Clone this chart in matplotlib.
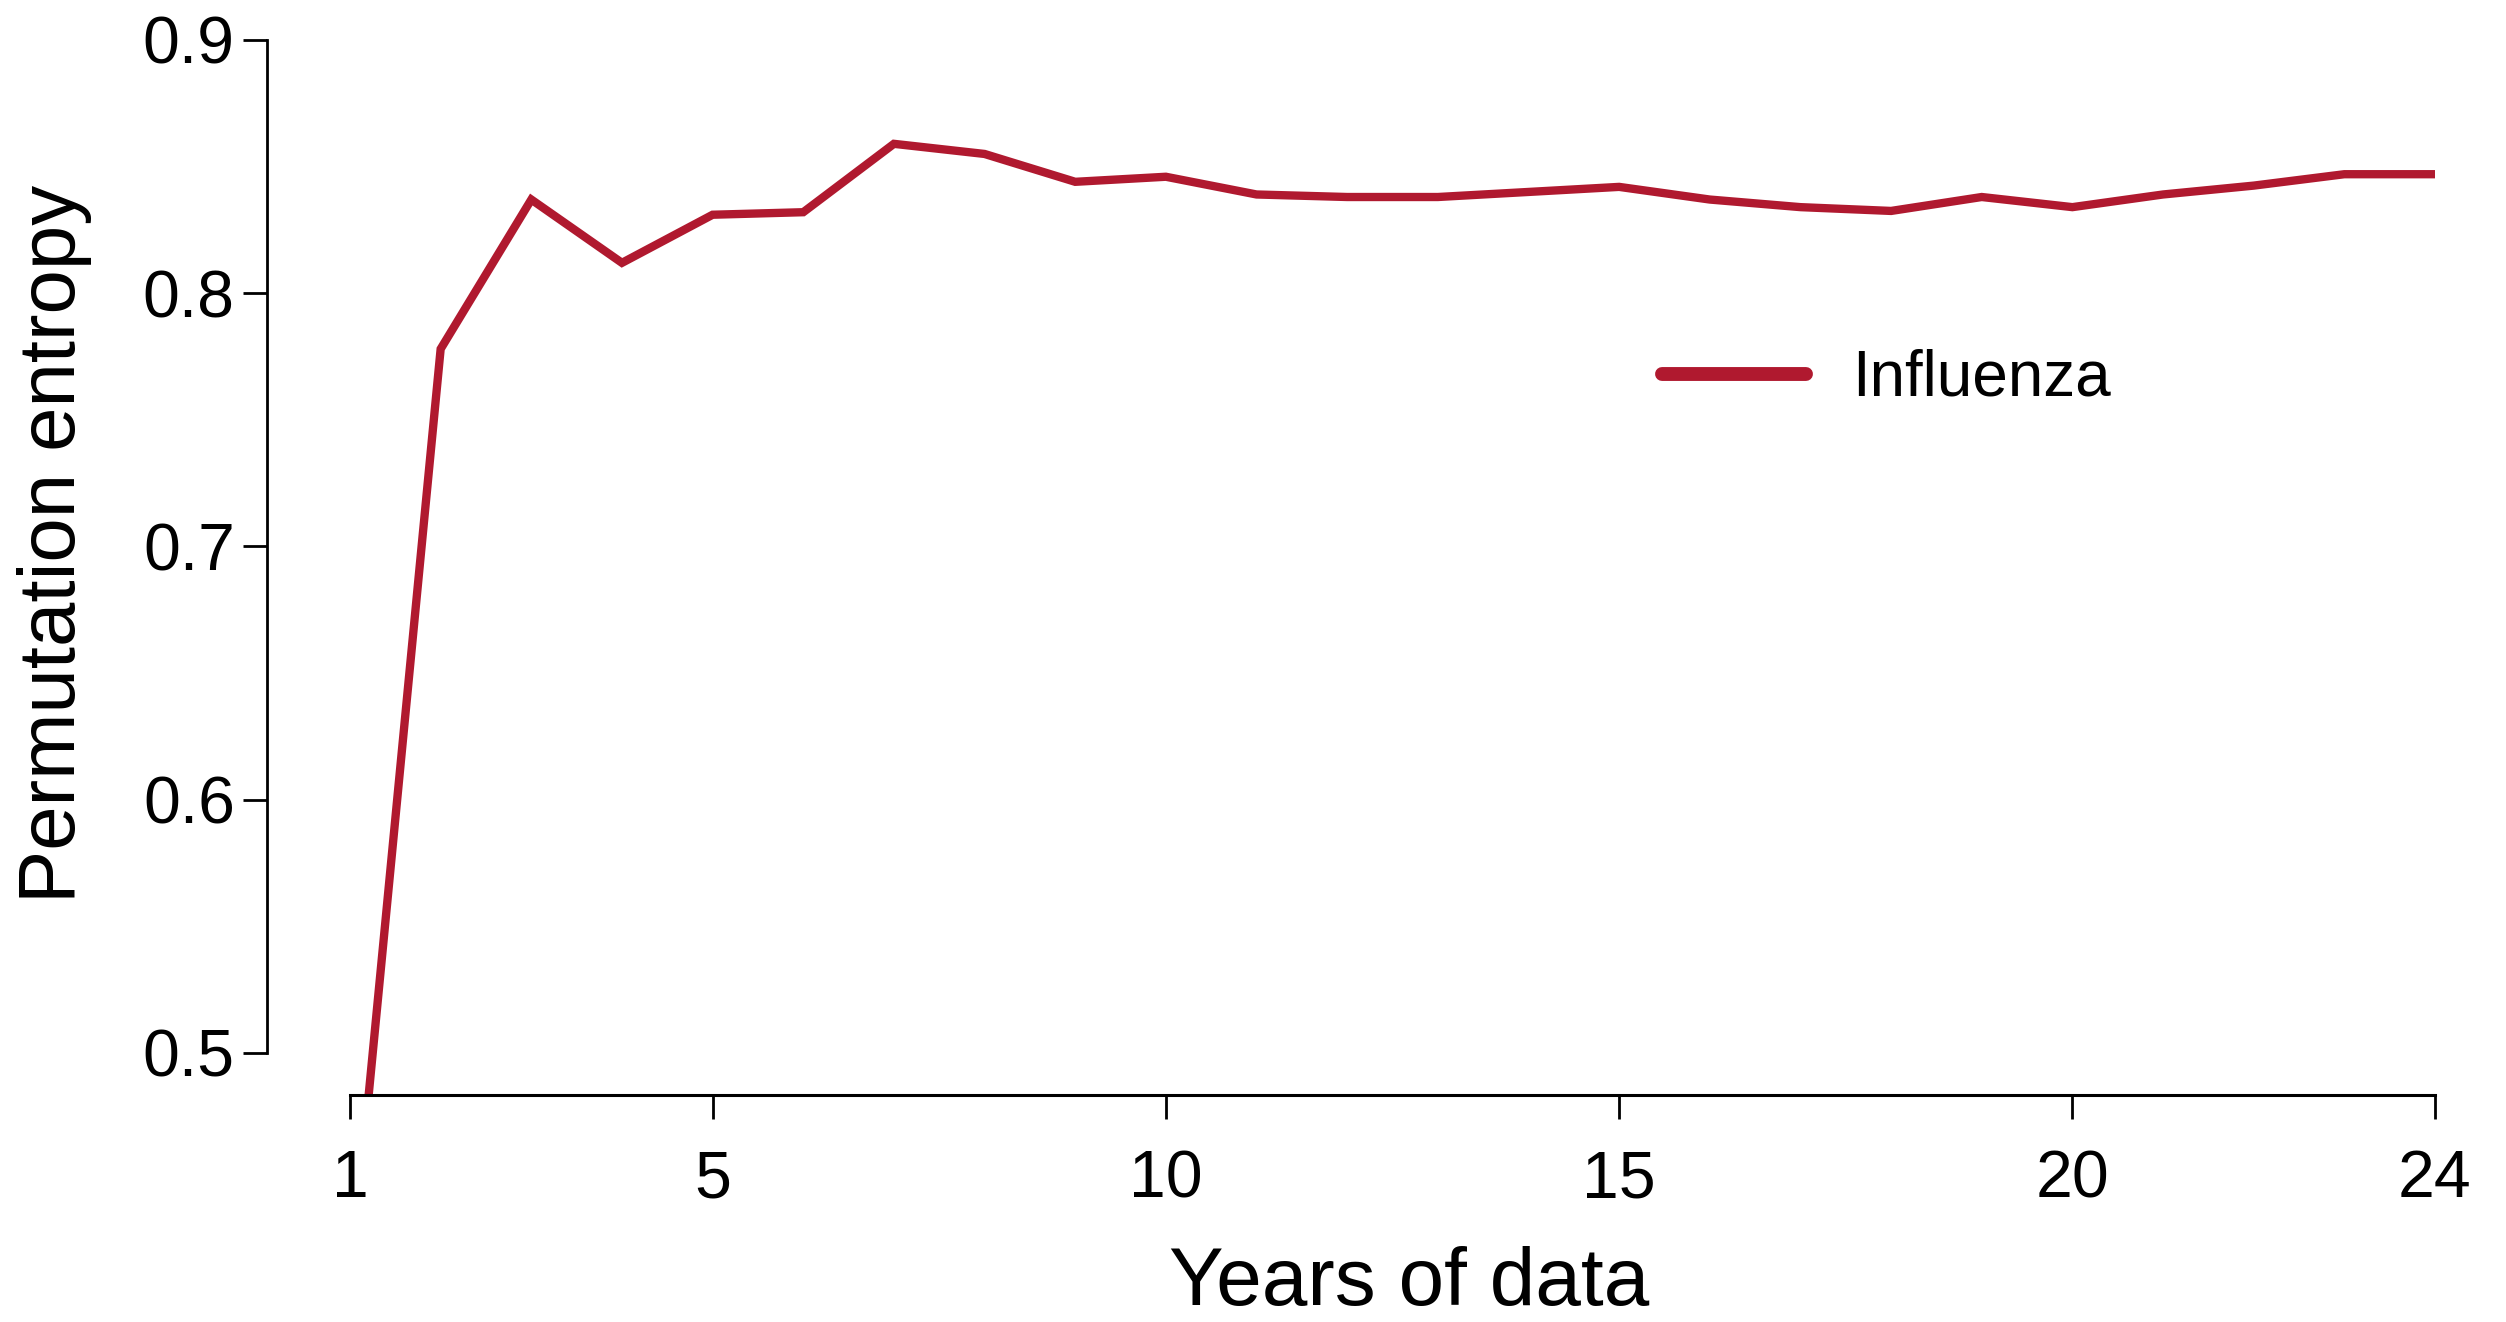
import numpy as np
import matplotlib
matplotlib.use("Agg")
from matplotlib import pyplot as plt

plt.rcParams['font.family'] = ['Liberation Sans', 'DejaVu Sans']

# data
years = np.arange(1, 25)
entropy = [0.407, 0.778, 0.837, 0.812, 0.831, 0.832, 0.859, 0.855, 0.844, 0.846,
           0.839, 0.838, 0.838, 0.840, 0.842, 0.837, 0.834, 0.8325, 0.838, 0.834,
           0.839, 0.8425, 0.847, 0.847]
xticks = [1, 5, 10, 15, 20, 24]
yticks = [0.5, 0.6, 0.7, 0.8, 0.9]
line_color = '#B0192F'

W, H = 2506, 1322
fig = plt.figure(figsize=(W / 200, H / 200), dpi=200)
ax = fig.add_axes([267 / W, 1 - 1095 / H, (2435 - 267) / W, (1095 - 40) / H])

ax.plot(years, entropy, color=line_color, lw=3.0, solid_joinstyle='miter',
        label='Influenza')

ax.set_xlim(0.0844, 24)
ax.set_ylim(0.4834, 0.9)

for s in ['top', 'right']:
    ax.spines[s].set_visible(False)
ax.spines['left'].set_bounds(0.5, 0.9)
ax.spines['bottom'].set_bounds(1, 24)
ax.spines['left'].set_linewidth(1.0)
ax.spines['bottom'].set_linewidth(1.1)

ax.set_xticks(xticks)
ax.set_yticks(yticks)
ax.set_yticklabels([f'{v:.1f}' for v in yticks])
ax.tick_params(axis='both', direction='out', length=8.6, width=1.0, labelsize=23.8)
ax.tick_params(axis='x', pad=11)
ax.tick_params(axis='y', pad=3)

fig.text(1409 / W, 1 - 1284 / H, 'Years of data', ha='center', va='center', fontsize=29.5)
fig.text(55 / W, 1 - 544 / H, 'Permutation entropy', ha='center', va='center',
         rotation=90, fontsize=28.7)

leg = ax.legend(loc='center left', bbox_to_anchor=(1662 / W, 1 - 379 / H),
                bbox_transform=fig.transFigure, frameon=False, fontsize=23,
                borderpad=0, borderaxespad=0, handlelength=2.25, handletextpad=0.72)
for ln in leg.get_lines():
    ln.set_linewidth(5)
    ln.set_solid_capstyle('round')

fig.savefig('out.png', dpi=200)
